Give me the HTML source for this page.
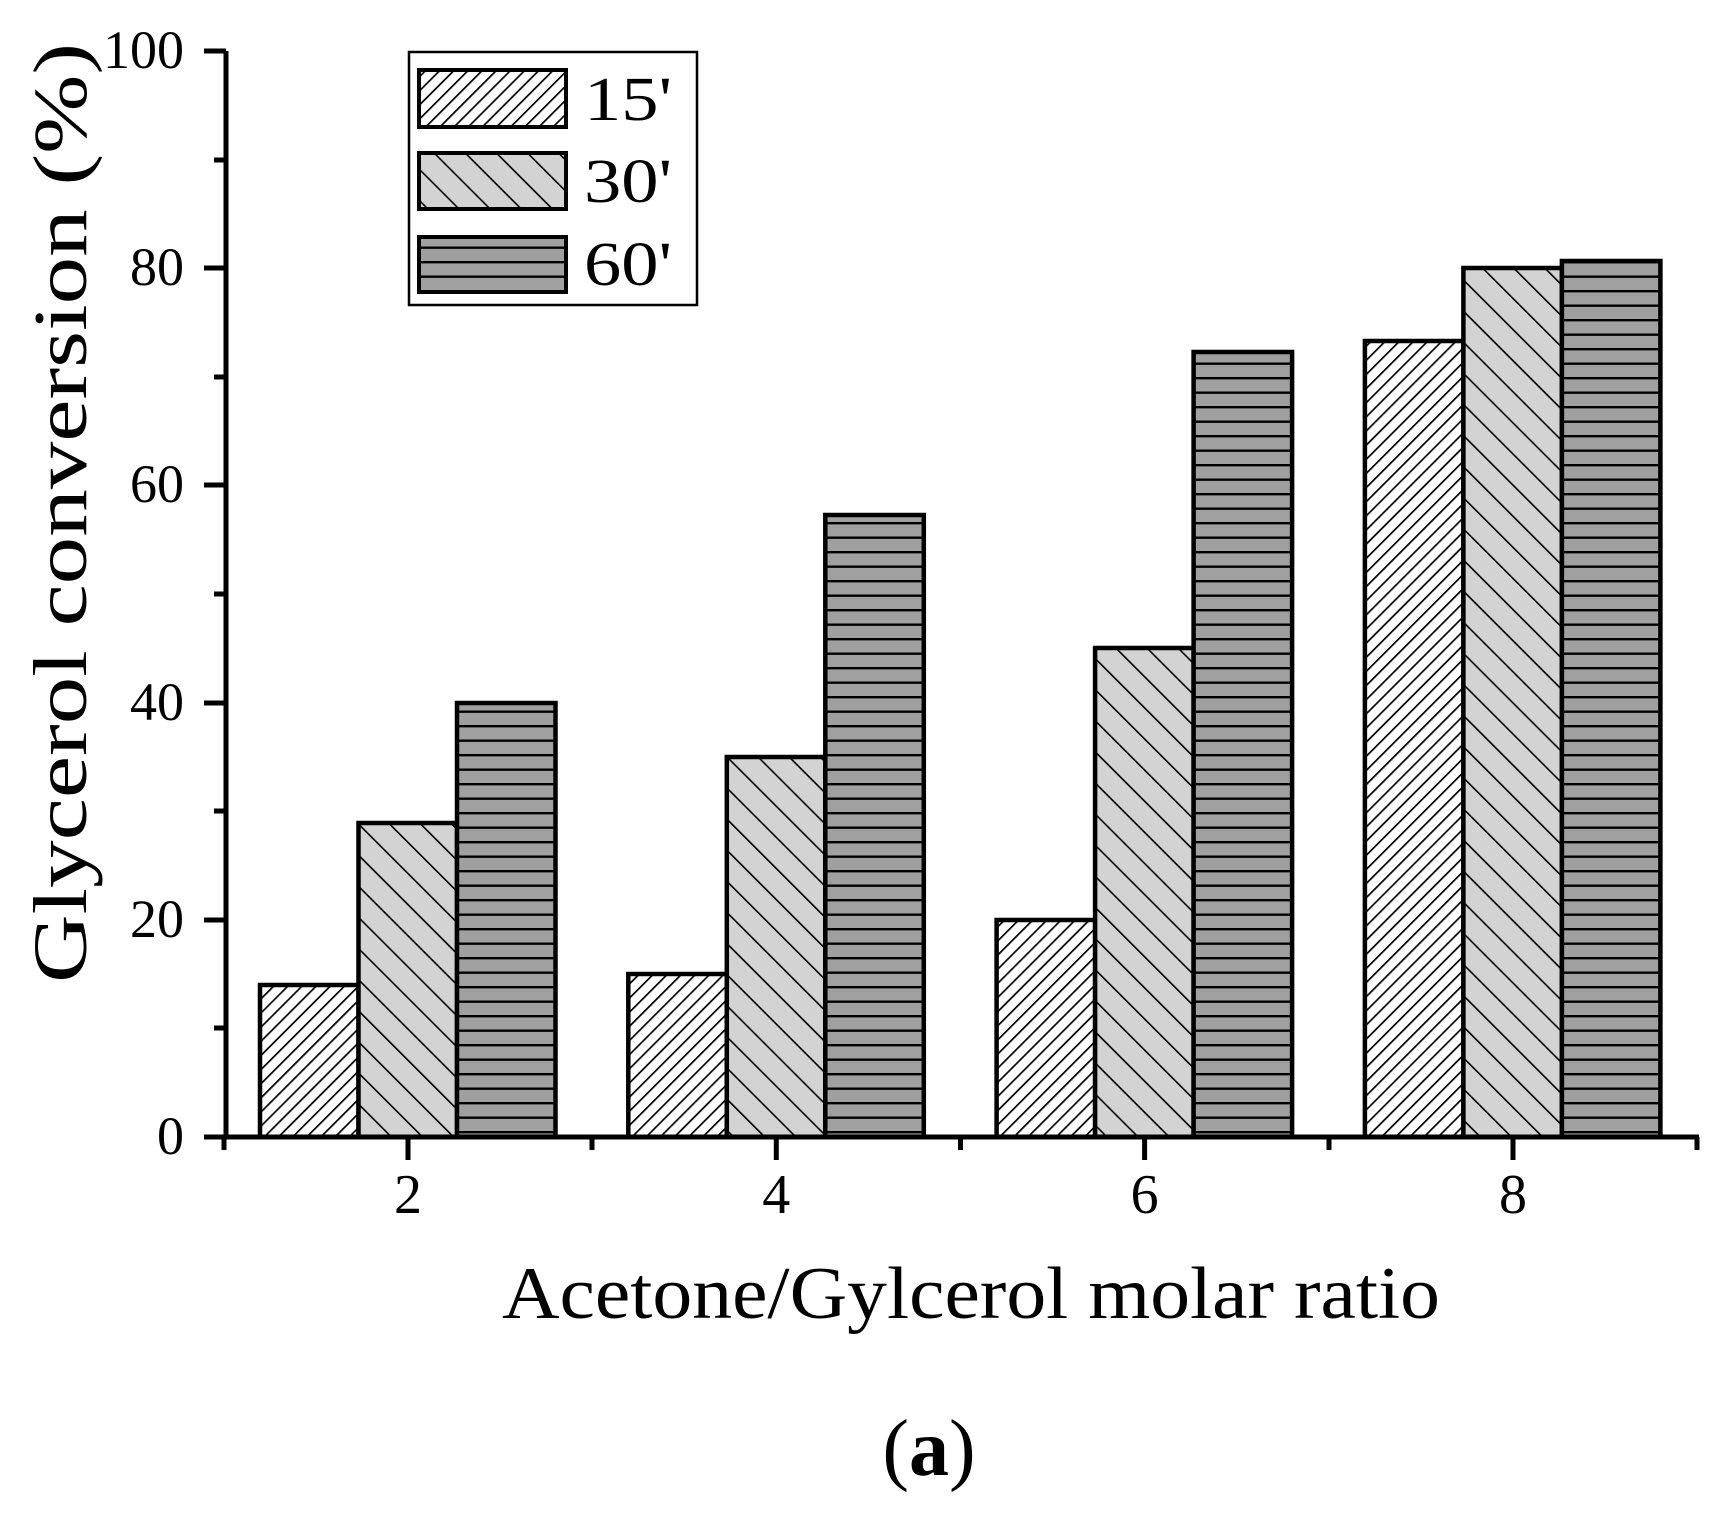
<!DOCTYPE html>
<html><head><meta charset="utf-8"><style>
html,body{margin:0;padding:0;background:#fff;}
svg{display:block;}
text{font-family:"Liberation Serif",serif;fill:#000;}
</style></head><body>
<svg width="1732" height="1518" viewBox="0 0 1732 1518" xmlns="http://www.w3.org/2000/svg">
<defs>
<pattern id="p15" patternUnits="userSpaceOnUse" width="10" height="10" patternTransform="rotate(45)">
<rect width="10" height="10" fill="#fff"/><line x1="0" y1="0" x2="0" y2="10" stroke="#000" stroke-width="3.4"/></pattern>
<pattern id="p30" patternUnits="userSpaceOnUse" width="22" height="22" patternTransform="rotate(-45)">
<rect width="22" height="22" fill="#d3d3d3"/><line x1="0" y1="0" x2="0" y2="22" stroke="#000" stroke-width="3.2"/></pattern>
<pattern id="p60" patternUnits="userSpaceOnUse" width="20" height="14.5">
<rect width="20" height="14.5" fill="#a0a0a0"/><line x1="0" y1="1" x2="20" y2="1" stroke="#000" stroke-width="2.8"/></pattern>
</defs>
<g stroke="#000" stroke-width="4.5">
<rect x="260" y="985" width="98.5" height="152" fill="url(#p15)"/>
<rect x="358.5" y="823" width="98.5" height="314" fill="url(#p30)"/>
<rect x="457" y="703" width="98.5" height="434" fill="url(#p60)"/>
<rect x="628.3" y="974" width="98.5" height="163" fill="url(#p15)"/>
<rect x="726.8" y="757" width="98.5" height="380" fill="url(#p30)"/>
<rect x="825.3" y="515" width="98.5" height="622" fill="url(#p60)"/>
<rect x="996.6" y="920" width="98.5" height="217" fill="url(#p15)"/>
<rect x="1095.1" y="648" width="98.5" height="489" fill="url(#p30)"/>
<rect x="1193.6" y="352" width="98.5" height="785" fill="url(#p60)"/>
<rect x="1364.9" y="341" width="98.5" height="796" fill="url(#p15)"/>
<rect x="1463.4" y="268" width="98.5" height="869" fill="url(#p30)"/>
<rect x="1561.9" y="261" width="98.5" height="876" fill="url(#p60)"/>
</g>
<g stroke="#000" stroke-width="5" fill="none" stroke-linecap="butt">
<line x1="226" y1="51" x2="226" y2="1139"/>
<line x1="223" y1="1137" x2="1699" y2="1137"/>
<line x1="204" y1="51" x2="226" y2="51"/>
<line x1="204" y1="268" x2="226" y2="268"/>
<line x1="204" y1="485" x2="226" y2="485"/>
<line x1="204" y1="703" x2="226" y2="703"/>
<line x1="204" y1="920" x2="226" y2="920"/>
<line x1="204" y1="1137" x2="226" y2="1137"/>
<line x1="214" y1="160" x2="226" y2="160"/>
<line x1="214" y1="377" x2="226" y2="377"/>
<line x1="214" y1="594" x2="226" y2="594"/>
<line x1="214" y1="811" x2="226" y2="811"/>
<line x1="214" y1="1028" x2="226" y2="1028"/>
<line x1="408" y1="1137" x2="408" y2="1160"/>
<line x1="776.3" y1="1137" x2="776.3" y2="1160"/>
<line x1="1144.6" y1="1137" x2="1144.6" y2="1160"/>
<line x1="1513" y1="1137" x2="1513" y2="1160"/>
<line x1="224" y1="1137" x2="224" y2="1150"/>
<line x1="592" y1="1137" x2="592" y2="1150"/>
<line x1="960.5" y1="1137" x2="960.5" y2="1150"/>
<line x1="1329" y1="1137" x2="1329" y2="1150"/>
<line x1="1697" y1="1137" x2="1697" y2="1150"/>
</g>
<g font-size="54" text-anchor="end">
<text x="184" y="68">100</text>
<text x="184" y="285">80</text>
<text x="184" y="502">60</text>
<text x="184" y="720">40</text>
<text x="184" y="937">20</text>
<text x="184" y="1154">0</text>
</g>
<g font-size="56" text-anchor="middle">
<text x="408" y="1213">2</text>
<text x="776.3" y="1213">4</text>
<text x="1144.6" y="1213">6</text>
<text x="1513" y="1213">8</text>
</g>
<text x="502" y="1318" font-size="74" textLength="938" lengthAdjust="spacingAndGlyphs">Acetone/Gylcerol molar ratio</text>
<text transform="translate(86,983) rotate(-90)" font-size="76" textLength="940" lengthAdjust="spacingAndGlyphs">Glycerol conversion (%)</text>
<text x="929" y="1475" font-size="80" text-anchor="middle">(<tspan font-weight="bold">a</tspan>)</text>
<rect x="409" y="52" width="288" height="253" fill="#fff" stroke="#000" stroke-width="2.5"/>
<g stroke="#000" stroke-width="4">
<rect x="419" y="70" width="147" height="57" fill="url(#p15)"/>
<rect x="419" y="153" width="147" height="56" fill="url(#p30)"/>
<rect x="419" y="237" width="147" height="55" fill="url(#p60)"/>
</g>
<g font-size="62">
<text x="584" y="120" textLength="88" lengthAdjust="spacingAndGlyphs">15'</text>
<text x="584" y="202" textLength="88" lengthAdjust="spacingAndGlyphs">30'</text>
<text x="584" y="285" textLength="88" lengthAdjust="spacingAndGlyphs">60'</text>
</g>
</svg>
</body></html>
